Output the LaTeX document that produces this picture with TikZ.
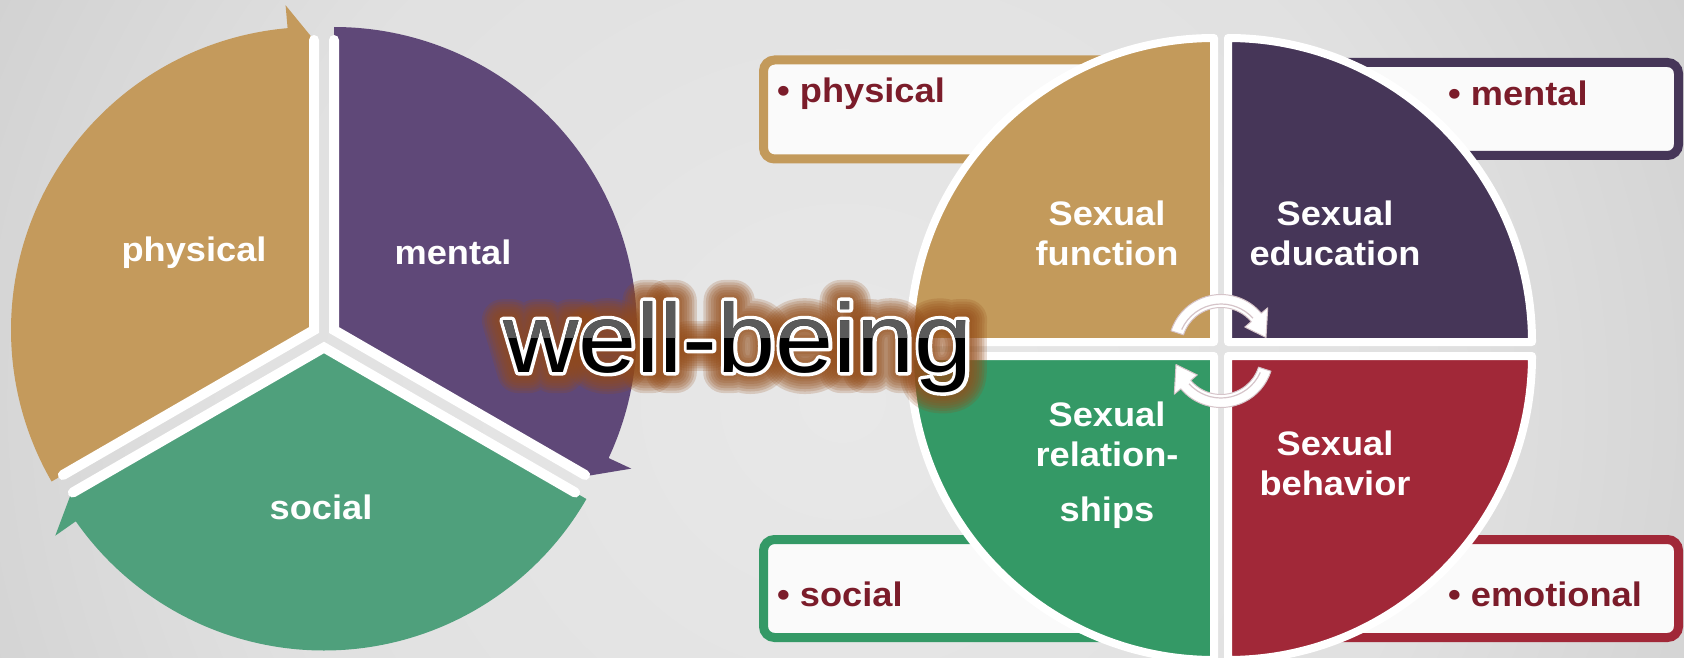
\documentclass[tikz,border=0pt]{standalone}
\usepackage{fontspec}
\setmainfont{Liberation Sans}[FakeStretch=1.065]
\usetikzlibrary{calc}

\definecolor{goldL}{HTML}{C49A5C}
\definecolor{plumL}{HTML}{5F4878}
\definecolor{jadeL}{HTML}{4FA07C}
\definecolor{goldR}{HTML}{C39A5B}
\definecolor{plumR}{HTML}{463658}
\definecolor{jadeR}{HTML}{349966}
\definecolor{wineR}{HTML}{A12838}
\definecolor{wineText}{HTML}{7B1C2A}
\definecolor{boxfill}{HTML}{FAFAFA}
\definecolor{wbgray}{HTML}{5A5A5A}
\definecolor{arrowline}{HTML}{D6C4C9}

\pgfdeclareradialshading{bgshade}{\pgfpoint{0bp}{0bp}}{rgb(0bp)=(.91,.91,.91); rgb(18bp)=(.88,.88,.88); rgb(32bp)=(.80,.80,.80); rgb(50bp)=(.69,.69,.69); rgb(100bp)=(.65,.65,.65)}

% stroked outline of a text: width, stroke colour (rgb), text
\newcommand\strokedtext[3]{\special{pdf:literal direct 1 Tr #1 w 1 J 1 j #2 RG}#3\special{pdf:literal direct 0 Tr}}

\tikzset{
    pielabel/.style={text=white, font=\bfseries\fontsize{34}{40}\selectfont, inner sep=0pt, anchor=base},
    quadlabel/.style={text=white, font=\bfseries\fontsize{34}{40}\selectfont, align=center, inner sep=0pt, anchor=north},
    boxtext/.style={text=wineText, font=\bfseries\fontsize{34}{40}\selectfont, inner sep=0pt, anchor=base west},
    wbtext/.style={font=\fontsize{98}{110}\selectfont, inner sep=0pt, anchor=base},
    tagbox/.style={line width=9pt, rounded corners=11pt, fill=boxfill},
    quadedge/.style={draw=white, line width=8pt, line join=round},
    pieedge/.style={white, line width=10pt, line cap=round, line join=miter},
    cyclearrow/.style={fill=white, draw=arrowline, line width=1pt, line join=round},
}

\begin{document}
\begin{tikzpicture}[x=1pt, y=1pt, yscale=-1]
    \useasboundingbox (0,0) rectangle (1684,658);
    \clip (0,0) rectangle (1684,658);
    \shade[shading=bgshade] (0,-420) rectangle (1684,1220);

    % left: three arrows round a circle
    \begin{scope}[shift={(314,330)}]
        \fill[goldL] (0,0) -- (150:303) arc[start angle=150, end angle=265, radius=303] -- (265:326) -- (270:290) -- cycle;
        \draw[pieedge] (150:290) -- (0,0) -- (270:290);
    \end{scope}
    \begin{scope}[shift={(334,330)}]
        \fill[plumL] (0,0) -- (270:303) arc[start angle=270, end angle=385, radius=303] -- (385:328) -- (390:292) -- cycle;
        \draw[pieedge] (270:290) -- (0,0) -- (390:290);
    \end{scope}
    \begin{scope}[shift={(324,347.5)}]
        \fill[jadeL] (0,0) -- (30:303) arc[start angle=30, end angle=145, radius=303] -- (145:328) -- (150:292) -- cycle;
        \draw[pieedge] (30:290) -- (0,0) -- (150:290);
    \end{scope}
    \node[pielabel] (lphys) at (194,261) {physical};
    \node[pielabel] (lment) at (453,264) {mental};
    \node[pielabel] (lsoc) at (321,519) {social};

    % right: tag boxes behind the four quadrants
    \draw[tagbox, draw=goldR] (763.5,60) rectangle (1170,159);
    \draw[tagbox, draw=plumR] (1270,62.5) rectangle (1678.5,155.5);
    \draw[tagbox, draw=jadeR] (763.5,539.5) rectangle (1170,637.5);
    \draw[tagbox, draw=wineR] (1270,539.5) rectangle (1678.5,637.5);
    \node[boxtext] (tphys) at (777,103) {• physical};
    \node[boxtext] (tment) at (1448,106) {• mental};
    \node[boxtext] (tsoc) at (777,606) {• social};
    \node[boxtext] (temo) at (1448,606) {• emotional};

    \filldraw[quadedge, fill=goldR] (1214,342) -- ++(180:304) arc[start angle=180, end angle=270, radius=304] -- cycle;
    \filldraw[quadedge, fill=plumR] (1228,342) -- ++(270:304) arc[start angle=270, end angle=360, radius=304] -- cycle;
    \filldraw[quadedge, fill=wineR] (1228,356) -- ++(0:304) arc[start angle=0, end angle=90, radius=304] -- cycle;
    \filldraw[quadedge, fill=jadeR] (1214,356) -- ++(90:304) arc[start angle=90, end angle=180, radius=304] -- cycle;
    \node[quadlabel] (qfunc) at (1107,201) {Sexual\\function};
    \node[quadlabel] (qedu) at (1335,201) {Sexual\\education};
    \node[quadlabel] (qrel) at (1107,402) {Sexual\\relation-\\[15pt]ships};
    \node[quadlabel] (qbeh) at (1335,431) {Sexual\\behavior};

    % cycle arrows in the middle
    \begin{scope}[shift={(1221,347)}]
        \filldraw[cyclearrow] (198:52.5) arc[start angle=198, end angle=320, radius=52.5] -- (320:61) -- (348:46) -- (320:31) -- (320:39.5) arc[start angle=320, end angle=198, radius=39.5] -- cycle;
        \draw[arrowline, line width=1.2pt] (204:43) arc[start angle=204, end angle=318, radius=43];
    \end{scope}
    \begin{scope}[shift={(1221,355)}]
        \filldraw[cyclearrow] (18:52.5) arc[start angle=18, end angle=140, radius=52.5] -- (140:61) -- (168:46) -- (140:31) -- (140:39.5) arc[start angle=140, end angle=18, radius=39.5] -- cycle;
        \draw[arrowline, line width=1.2pt] (24:43) arc[start angle=24, end angle=138, radius=43];
    \end{scope}

    % well-being with glow and outline
    \coordinate (wb) at (738,372);
    \foreach \wid in {42,37,32,27,22,17,12}
        \node[wbtext, opacity=0.2] (halo-\wid) at (wb) {\strokedtext{\wid}{0.58 0.30 0.10}{well-being}};
    \node[wbtext] (rim) at (wb) {\strokedtext{7}{1 1 1}{well-being}};
    \node[wbtext, text=black] (wellbeing) at (wb) {well-being};
    \begin{scope}
        \clip (400,250) rectangle (1000,337);
        \node[wbtext, text=wbgray] (wellbeingtop) at (wb) {well-being};
    \end{scope}
\end{tikzpicture}
\end{document}
